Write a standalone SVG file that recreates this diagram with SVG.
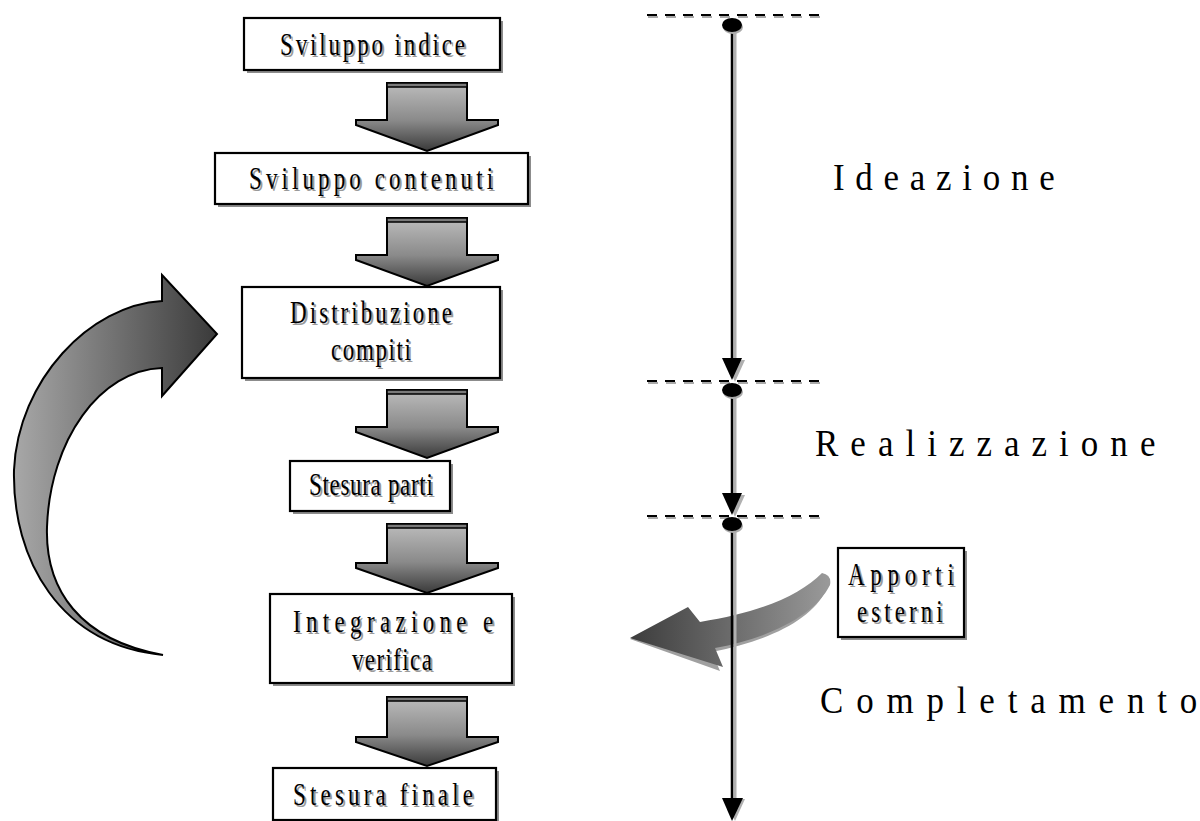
<svg xmlns="http://www.w3.org/2000/svg" width="1200" height="821" viewBox="0 0 1200 821">
<defs>
<linearGradient id="gBlk" x1="0" y1="0" x2="0" y2="1">
<stop offset="0" stop-color="#bcbcbc"/><stop offset="0.55" stop-color="#8a8a8a"/><stop offset="1" stop-color="#3a3a3a"/>
</linearGradient>
<linearGradient id="gLoop" x1="0" y1="0" x2="1" y2="0">
<stop offset="0" stop-color="#a8a8a8"/><stop offset="1" stop-color="#3a3a3a"/>
</linearGradient>
<linearGradient id="gApp" x1="0" y1="0" x2="1" y2="0">
<stop offset="0" stop-color="#3c3c3c"/><stop offset="1" stop-color="#9a9a9a"/>
</linearGradient>
</defs>
<style>
.box{fill:#fff;stroke:#000;stroke-width:2.2}
.bsh{fill:#8c8c8c}
.t{font-family:"Liberation Serif","Times New Roman",serif;font-size:32px;fill:#000}
.ts{font-family:"Liberation Serif","Times New Roman",serif;font-size:32px;fill:#9a9a9a}
.lab{font-family:"Liberation Serif","Times New Roman",serif;font-size:38px;fill:#000}
.blk{fill:url(#gBlk);stroke:#000;stroke-width:2}
.band{fill:#7a7a7a;stroke:#000;stroke-width:1.5}
.dash{stroke:#000;stroke-width:2;stroke-dasharray:10 8;fill:none}
.dashs{stroke:#aaa;stroke-width:2;stroke-dasharray:10 8;fill:none}
.tl{stroke:#000;stroke-width:2.5;fill:none}
.tls{stroke:#b0b0b0;stroke-width:3;fill:none}
.head{fill:#000}
.heads{fill:#b0b0b0}
</style>

<g id="connectors">
<g id="a1"><polygon class="blk" points="387,83 467,83 467,120 498,120 498,125 427,151 356,125 356,120 387,120"/><rect class="band" x="387" y="83" width="80" height="4"/></g>
<g id="a2"><polygon class="blk" points="387,218 467,218 467,255 498,255 498,260 427,286 356,260 356,255 387,255"/><rect class="band" x="387" y="218" width="80" height="4"/></g>
<g id="a3"><polygon class="blk" points="387,390 467,390 467,427 498,427 498,432 427,458 356,432 356,427 387,427"/><rect class="band" x="387" y="390" width="80" height="4"/></g>
<g id="a4"><polygon class="blk" points="387,524 467,524 467,563 498,563 498,568 427,593 356,568 356,563 387,563"/><rect class="band" x="387" y="524" width="80" height="4"/></g>
<g id="a5"><polygon class="blk" points="387,697 467,697 467,737 498,737 498,742 427,766 356,742 356,737 387,737"/><rect class="band" x="387" y="697" width="80" height="4"/></g>

<path id="loop" d="M162,275 L217,334 L162,396 L162,368 C100,370 50,440 47,527 C45,590 80,640 163,655 C60,645 12,560 14,470 C18,380 90,305 162,301 Z" fill="url(#gLoop)" stroke="#000" stroke-width="2"/>

<path d="M818,578 C796,598 760,616 697,627 L684,612 L630,639 L720,671 L712,652 C768,641 812,620 826,590 Z" fill="#a0a0a0"/>
<path d="M822,573 C800,595 762,612 700,622 L688,607 L630,638 L723,667 L715,648 C770,638 815,615 830,585 Q832,575 822,573 Z" fill="url(#gApp)"/>

<line class="dashs" x1="648" y1="17" x2="828" y2="17"/>
<line class="dash" x1="647" y1="15" x2="827" y2="15"/>
<line class="dashs" x1="648" y1="383" x2="828" y2="383"/>
<line class="dash" x1="647" y1="381" x2="827" y2="381"/>
<line class="dashs" x1="648" y1="518" x2="828" y2="518"/>
<line class="dash" x1="647" y1="516" x2="827" y2="516"/>

<line class="tls" x1="735" y1="28" x2="735" y2="362"/>
<line class="tl" x1="732" y1="25" x2="732" y2="362"/>
<polygon class="heads" points="725,360 745,360 735,382"/>
<polygon class="head" points="722,358 742,358 732,380"/>
<line class="tls" x1="735" y1="393" x2="735" y2="497"/>
<line class="tl" x1="732" y1="390" x2="732" y2="497"/>
<polygon class="heads" points="725,495 745,495 735,517"/>
<polygon class="head" points="722,493 742,493 732,515"/>
<line class="tls" x1="735" y1="527" x2="735" y2="800"/>
<line class="tl" x1="732" y1="524" x2="732" y2="800"/>
<polygon class="heads" points="725,799 745,799 735,821"/>
<polygon class="head" points="722,798 743,798 732,821"/>
<ellipse cx="733" cy="27" rx="10" ry="7" fill="#aaa"/>
<ellipse cx="732" cy="25" rx="10" ry="7" fill="#000"/>
<ellipse cx="733" cy="392" rx="10" ry="7" fill="#aaa"/>
<ellipse cx="732" cy="390" rx="10" ry="7" fill="#000"/>
<ellipse cx="733" cy="526" rx="10" ry="7" fill="#aaa"/>
<ellipse cx="732" cy="524" rx="10" ry="7" fill="#000"/>
</g>

<g id="n1">
<rect class="bsh" x="247" y="21" width="256" height="52"/>
<rect class="box" x="244" y="18" width="256" height="52"/>
<text class="ts" transform="translate(282 57) scale(0.72 1)" textLength="257" lengthAdjust="spacing">Sviluppo indice</text>
<text class="t" transform="translate(280 55) scale(0.72 1)" textLength="257" lengthAdjust="spacing">Sviluppo indice</text>
</g>
<g id="n2">
<rect class="bsh" x="218" y="156" width="313" height="51"/>
<rect class="box" x="215" y="153" width="313" height="51"/>
<text class="ts" transform="translate(251 191) scale(0.72 1)" textLength="339" lengthAdjust="spacing">Sviluppo contenuti</text>
<text class="t" transform="translate(249 189) scale(0.72 1)" textLength="339" lengthAdjust="spacing">Sviluppo contenuti</text>
</g>
<g id="n3">
<rect class="bsh" x="245" y="290" width="258" height="91"/>
<rect class="box" x="242" y="287" width="258" height="91"/>
<text class="ts" transform="translate(292 325) scale(0.72 1)" textLength="225" lengthAdjust="spacing">Distribuzione</text>
<text class="t" transform="translate(290 323) scale(0.72 1)" textLength="225" lengthAdjust="spacing">Distribuzione</text>
<text class="ts" transform="translate(333 362) scale(0.72 1)" textLength="111" lengthAdjust="spacing">compiti</text>
<text class="t" transform="translate(331 360) scale(0.72 1)" textLength="111" lengthAdjust="spacing">compiti</text>
</g>
<g id="n4">
<rect class="bsh" x="293" y="464" width="160" height="50"/>
<rect class="box" x="290" y="461" width="160" height="50"/>
<text class="ts" transform="translate(311 497) scale(0.72 1)" textLength="172" lengthAdjust="spacing">Stesura parti</text>
<text class="t" transform="translate(309 495) scale(0.72 1)" textLength="172" lengthAdjust="spacing">Stesura parti</text>
</g>
<g id="n5">
<rect class="bsh" x="273" y="597" width="242" height="89"/>
<rect class="box" x="270" y="594" width="242" height="89"/>
<text class="ts" transform="translate(295 634) scale(0.72 1)" textLength="278" lengthAdjust="spacing">Integrazione e</text>
<text class="t" transform="translate(293 632) scale(0.72 1)" textLength="278" lengthAdjust="spacing">Integrazione e</text>
<text class="ts" transform="translate(354 672) scale(0.72 1)" textLength="111" lengthAdjust="spacing">verifica</text>
<text class="t" transform="translate(352 670) scale(0.72 1)" textLength="111" lengthAdjust="spacing">verifica</text>
</g>
<g id="n6">
<rect class="bsh" x="276" y="771" width="223" height="52"/>
<rect class="box" x="273" y="768" width="223" height="52"/>
<text class="ts" transform="translate(295 807) scale(0.72 1)" textLength="250" lengthAdjust="spacing">Stesura finale</text>
<text class="t" transform="translate(293 805) scale(0.72 1)" textLength="250" lengthAdjust="spacing">Stesura finale</text>
</g>
<g id="n7">
<rect class="bsh" x="841" y="551" width="126" height="89"/>
<rect class="box" x="838" y="548" width="126" height="89"/>
<text class="ts" transform="translate(850 587) scale(0.72 1)" textLength="147" lengthAdjust="spacing">Apporti</text>
<text class="t" transform="translate(848 585) scale(0.72 1)" textLength="147" lengthAdjust="spacing">Apporti</text>
<text class="ts" transform="translate(859 624) scale(0.72 1)" textLength="119" lengthAdjust="spacing">esterni</text>
<text class="t" transform="translate(857 622) scale(0.72 1)" textLength="119" lengthAdjust="spacing">esterni</text>
</g>
<g id="labels">
<text class="lab" transform="translate(833 190) scale(0.92 1)" textLength="241" lengthAdjust="spacing">Ideazione</text>
<text class="lab" transform="translate(815 456) scale(0.92 1)" textLength="370" lengthAdjust="spacing">Realizzazione</text>
<text class="lab" transform="translate(820 713) scale(0.92 1)" textLength="410" lengthAdjust="spacing">Completamento</text>
</g>
</svg>
